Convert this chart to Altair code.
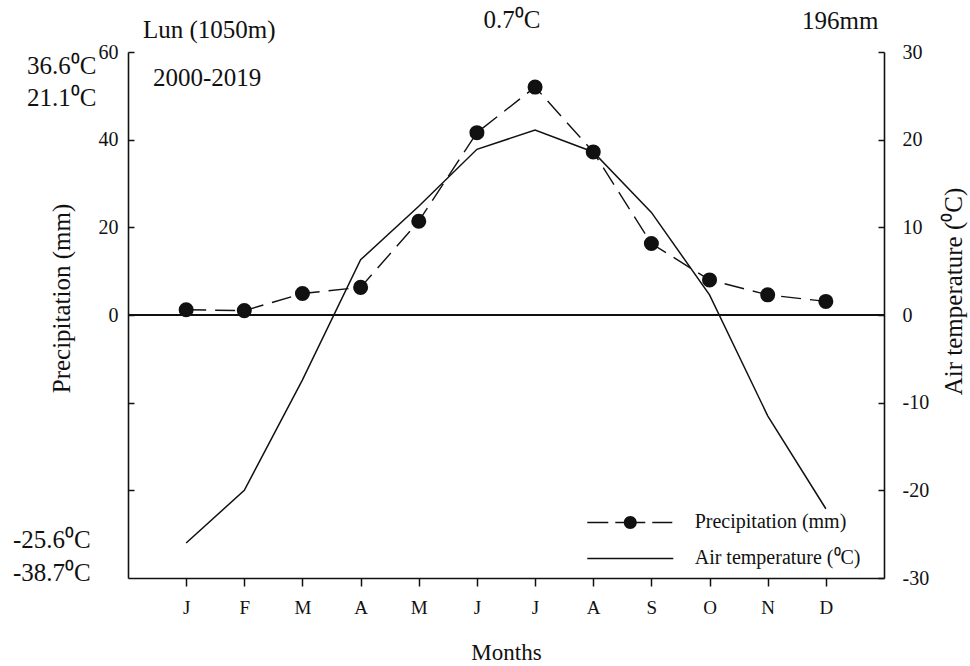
import altair as alt
import pandas as pd

# ---------------- data ----------------
month_labels = ["J", "F", "M", "A", "M", "J", "J", "A", "S", "O", "N", "D"]
month_index = list(range(1, 13))
precip_mm = [1.2, 1.0, 4.9, 6.3, 21.4, 41.6, 52.0, 37.2, 16.3, 8.0, 4.6, 3.1]
air_temp_c = [-26.0, -20.0, -7.4, 6.3, 12.4, 18.9, 21.1, 18.6, 11.7, 2.3, -11.5, -22.1]

precip_domain = [-60, 60]
temp_domain = [-30, 30]
precip_labels = [0, 20, 40, 60]
precip_ticks = [-40, -20, 0, 20, 40, 60]
temp_ticks = [-30, -20, -10, 0, 10, 20, 30]

series_names = ["Precipitation (mm)", "Air temperature (\u2070C)"]
station_text = "Lun (1050m)"
period_text = "2000-2019"
mean_temp_text = "0.7\u2070C"
annual_precip_text = "196mm"
extreme_texts = ["36.6\u2070C", "21.1\u2070C", "-25.6\u2070C", "-38.7\u2070C"]

# ---------------- style ----------------
FONT = "Liberation Serif"
INK = "#111111"
W, H = 756, 526

df = pd.DataFrame({"month": month_index, "precip": precip_mm, "temp": air_temp_c})
label_expr = "[" + ",".join(f"'{m}'" for m in month_labels) + "][datum.value - 1]"

x_enc = alt.X(
    "month:Q",
    scale=alt.Scale(domain=[0, 13], nice=False, zero=False),
    axis=alt.Axis(
        values=month_index, labelExpr=label_expr, title="Months", grid=False,
        tickSize=8, tickWidth=1.5, tickColor=INK, domainColor=INK, domainWidth=1.6,
        labelFont=FONT, labelFontSize=19, labelColor=INK, labelPadding=12, labelFlush=False,
        titleFont=FONT, titleFontSize=23, titleFontWeight="normal", titleColor=INK,
        titlePadding=24,
    ),
)

p_scale = alt.Scale(domain=precip_domain, nice=False, zero=False)
t_scale = alt.Scale(domain=temp_domain, nice=False, zero=False)

p_axis = alt.Axis(
    orient="left", values=precip_labels, title=series_names[0], grid=False,
    ticks=False, tickSize=0, domainColor=INK, domainWidth=1.6,
    labelFont=FONT, labelFontSize=20, labelColor=INK, labelPadding=10,
    labelExpr="'' + datum.value",
    titleFont=FONT, titleFontSize=25, titleFontWeight="normal", titleColor=INK,
    titlePadding=24, titleY=246,
)
t_axis = alt.Axis(
    orient="right", values=temp_ticks, title=series_names[1], grid=False,
    ticks=False, tickSize=0, domainColor=INK, domainWidth=1.6,
    labelFont=FONT, labelFontSize=20, labelColor=INK, labelPadding=18,
    labelExpr="'' + datum.value",
    titleFont=FONT, titleFontSize=25, titleFontWeight="normal", titleColor=INK,
    titlePadding=13, titleAngle=270, titleBaseline="top", titleY=239,
)

y_p = alt.Y("precip:Q", scale=p_scale, axis=p_axis)
y_t = alt.Y("temp:Q", scale=t_scale, axis=t_axis)


# legend symbol paths (units of 10 px, symbol centre at 0); strokes drawn as thin filled bars
def bar(x0, x1, h=0.075):
    return f"M{x0},{-h}H{x1}V{h}H{x0}Z"


path_precip = (
    bar(-9.24, -7.14) + bar(-6.44, -5.54) + bar(-4.34, -3.44) + bar(-2.74, -0.74)
    + "M-4.29,0A0.65,0.65 0 1 1 -5.59,0A0.65,0.65 0 1 1 -4.29,0Z"
)
path_temp = bar(-9.24, -0.64)

base = alt.Chart(df)

precip_line = base.mark_line(color=INK, strokeWidth=1.4, strokeDash=[20, 9]).encode(x=x_enc, y=y_p)
precip_pts = base.mark_point(filled=True, fill=INK, stroke=INK, size=170, opacity=1).encode(x=x_enc, y=y_p)
legend_layer = (
    base.transform_calculate(series=f"'{series_names[0]}'")
    .transform_filter("false")
    .mark_point(filled=False, fill=INK, stroke=INK, strokeWidth=1.4, opacity=1)
    .encode(
        x=x_enc,
        y=y_p,
        shape=alt.Shape(
            "series:N",
            scale=alt.Scale(domain=series_names, range=[path_precip, path_temp]),
            legend=alt.Legend(
                orient="none", legendX=540.7, legendY=459.4, title=None, direction="vertical",
                padding=0, symbolSize=400, symbolStrokeWidth=1.4, symbolFillColor=INK,
                symbolStrokeColor=INK, symbolOpacity=1, symbolOffset=0, labelFont=FONT,
                labelFontSize=20, labelColor=INK, labelOffset=4, labelLimit=400, rowPadding=15,
            ),
        ),
    )
)
precip_group = alt.layer(precip_line, precip_pts, legend_layer)

temp_line = base.mark_line(color=INK, strokeWidth=1.5).encode(x=x_enc, y=y_t)
zero_rule = base.mark_rule(color=INK, strokeWidth=1.5).encode(
    y=alt.YDatum(0, scale=t_scale, axis=t_axis)
)
temp_group = alt.layer(temp_line, zero_rule)

# inward ticks on both vertical axes
left_ticks = base.transform_filter("false").mark_point().encode(
    x=x_enc,
    y=alt.Y("precip:Q", scale=p_scale, axis=alt.Axis(
        orient="right", offset=-W, values=precip_ticks, labels=False, domain=False,
        grid=False, tickSize=6, tickWidth=1.5, tickColor=INK, title="")),
)
right_ticks = base.transform_filter("false").mark_point().encode(
    x=x_enc,
    y=alt.Y("temp:Q", scale=t_scale, axis=alt.Axis(
        orient="left", offset=-W, values=temp_ticks, labels=False, domain=False,
        grid=False, tickSize=6, tickWidth=1.5, tickColor=INK, title="")),
)


def note(text, x, y, align="left"):
    return alt.Chart(alt.Data(values=[{}])).mark_text(
        text=text, font=FONT, fontSize=25, align=align, baseline="middle", color=INK
    ).encode(x=alt.value(x), y=alt.value(y))


notes = [
    note(station_text, 15, -22),
    note(period_text, 25, 26),
    note(mean_temp_text, 384, -32, align="center"),
    note(annual_precip_text, 674, -31),
    note(extreme_texts[0], -101, 14),
    note(extreme_texts[1], -101, 46),
    note(extreme_texts[2], -115, 488),
    note(extreme_texts[3], -115, 521),
]

chart = (
    alt.layer(precip_group, temp_group, left_ticks, right_ticks, *notes)
    .resolve_scale(y="independent")
    .properties(
        width=W, height=H,
        padding={"left": 128, "top": 52, "right": 86, "bottom": 88},
        autosize=alt.AutoSizeParams(type="none"),
        background="white",
    )
    .configure_view(strokeWidth=0)
)

chart.save("out.html", embed_options={"renderer": "svg", "actions": False})
